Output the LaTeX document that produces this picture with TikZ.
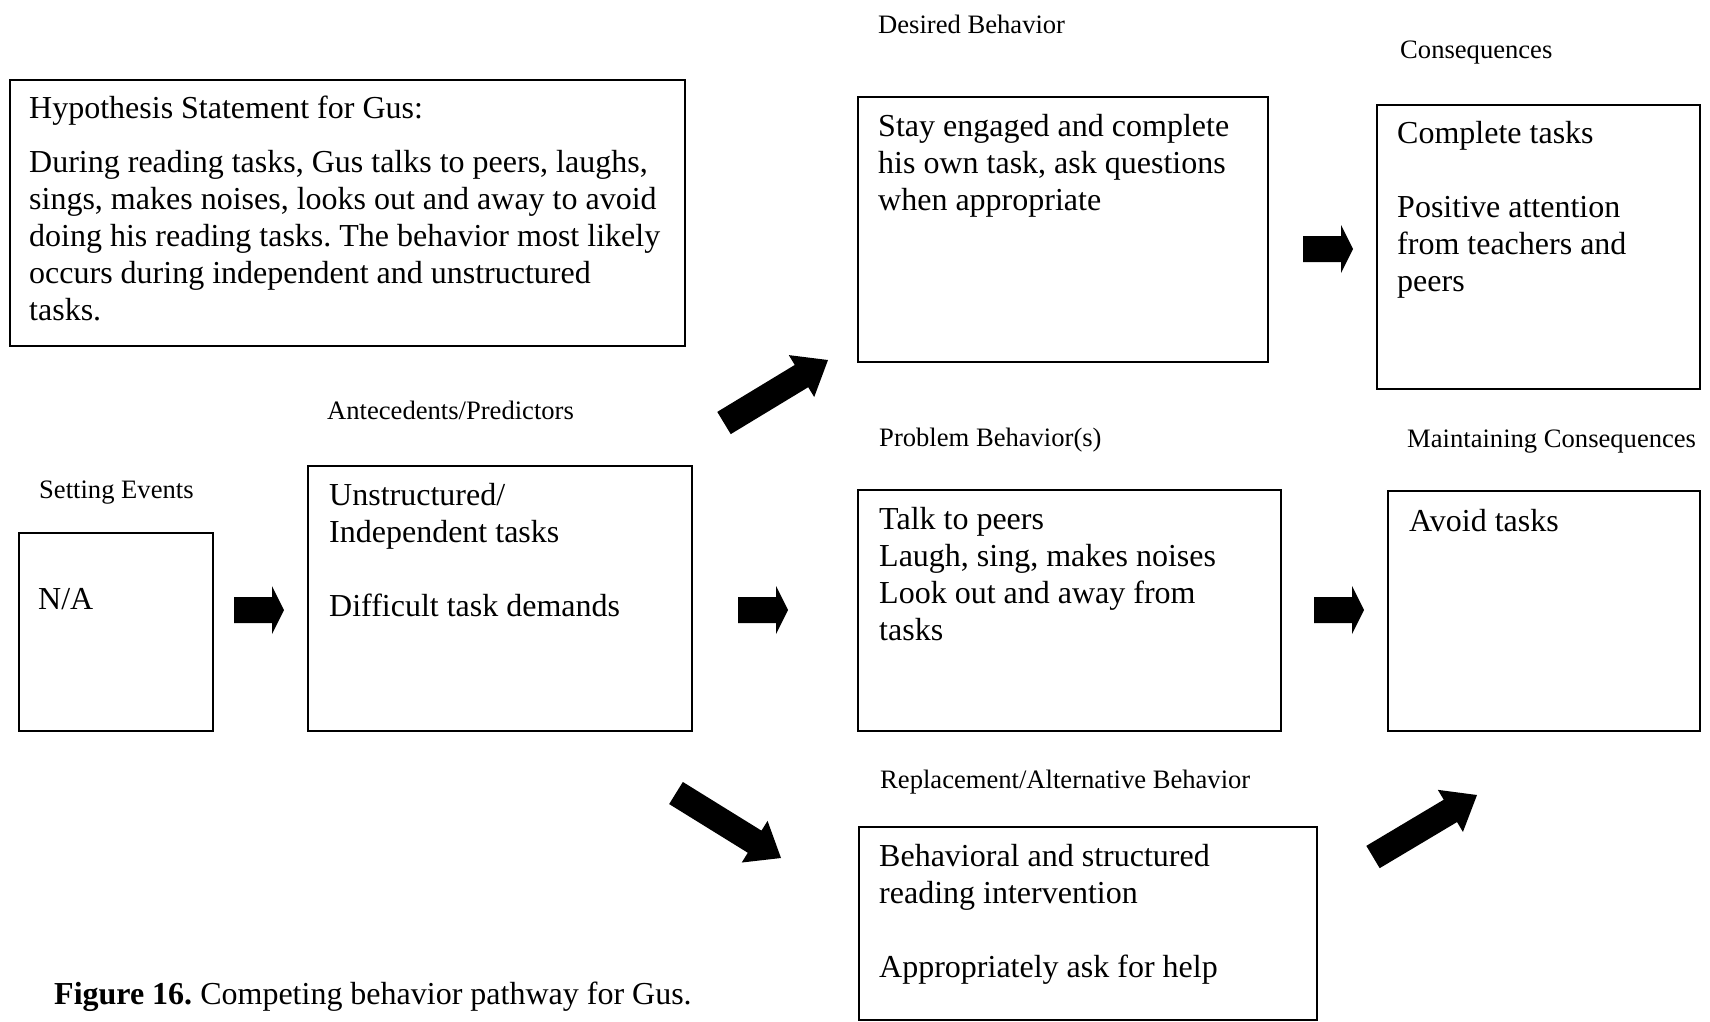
\documentclass[tikz,border=0pt]{standalone}
\usepackage{fontspec}
\setmainfont{Liberation Serif}
\usetikzlibrary{calc}
\frenchspacing

\tikzset{
  panel/.style={draw, line width=1.5pt, inner sep=0pt, anchor=north west},
  body/.style={anchor=base west, inner sep=0pt, font=\fontsize{32}{37}\selectfont},
  heading/.style={anchor=base west, inner sep=0pt, font=\fontsize{26.6}{30}\selectfont},
}

% Filled block arrow from #1 to #2: half shaft width #3, half head width #4, head length #5
\newcommand{\blockarrow}[5]{%
  \coordinate (neck) at ($(#2)!#5!(#1)$);
  \fill ($(#1)!#3!90:(#2)$) -- ($(neck)!#3!90:(#2)$) -- ($(neck)!#4!90:(#2)$)
     -- (#2) -- ($(neck)!#4!-90:(#2)$) -- ($(neck)!#3!-90:(#2)$)
     -- ($(#1)!#3!-90:(#2)$) -- cycle;
}

\newcommand{\lines}[1]{\begin{tabular}[t]{@{}l@{}}#1\end{tabular}}

\begin{document}
\begin{tikzpicture}[x=1pt, y=-1pt]
\useasboundingbox (0,0) rectangle (1710,1021);

% boxes
\node[panel, minimum width=675pt, minimum height=266pt] (hyp) at (9,79) {};
\node[panel, minimum width=410pt, minimum height=265pt] (des) at (857,96) {};
\node[panel, minimum width=323pt, minimum height=284pt] (con) at (1376,104) {};
\node[panel, minimum width=194pt, minimum height=198pt] (na) at (18,532) {};
\node[panel, minimum width=384pt, minimum height=265pt] (ant) at (307,465) {};
\node[panel, minimum width=423pt, minimum height=241pt] (prob) at (857,489) {};
\node[panel, minimum width=312pt, minimum height=240pt] (mnt) at (1387,490) {};
\node[panel, minimum width=458pt, minimum height=193pt] (rep) at (858,826) {};

% headings above the boxes
\node[heading] (hDes) at (878,33) {Desired Behavior};
\node[heading] (hCon) at (1400,58) {Consequences};
\node[heading] (hAnt) at (327,419) {Antecedents/Predictors};
\node[heading] (hProb) at (879,446) {Problem Behavior(s)};
\node[heading] (hMnt) at (1407,447) {Maintaining Consequences};
\node[heading] (hSet) at (39,498) {Setting Events};
\node[heading] (hRep) at (880,788) {Replacement/Alternative Behavior};

% box contents
\node[body] (tHyp) at (29,118) {\lines{Hypothesis Statement for Gus:\\[17pt]
  During reading tasks, Gus talks to peers, laughs,\\
  sings, makes noises, looks out and away to avoid\\
  doing his reading tasks. The behavior most likely\\
  occurs during independent and unstructured\\
  tasks.}};
\node[body] (tDes) at (878,136) {\lines{Stay engaged and complete\\his own task, ask questions\\when appropriate}};
\node[body] (tCon) at (1397,143) {\lines{Complete tasks\\ \\Positive attention\\from teachers and\\peers}};
\node[body] (tNa) at (38,609) {N/A};
\node[body] (tAnt) at (329,505) {\lines{Unstructured/\\Independent tasks\\ \\Difficult task demands}};
\node[body] (tProb) at (879,529) {\lines{Talk to peers\\Laugh, sing, makes noises\\Look out and away from\\tasks}};
\node[body] (tMnt) at (1409,531) {Avoid tasks};
\node[body] (tRep) at (879,866) {\lines{Behavioral and structured\\reading intervention\\ \\Appropriately ask for help}};

% caption
\node[body] (cap) at (54,1004) {\textbf{Figure 16.} Competing behavior pathway for Gus.};

% arrow end points
\coordinate (a1s) at (234,610);  \coordinate (a1e) at (284,610);
\coordinate (a2s) at (738,610);  \coordinate (a2e) at (788,610);
\coordinate (a3s) at (1314,610); \coordinate (a3e) at (1364,610);
\coordinate (a4s) at (1303,249); \coordinate (a4e) at (1353,249);
\coordinate (a5s) at (724,423);  \coordinate (a5e) at (828,360);
\coordinate (a6s) at (676,793);  \coordinate (a6e) at (781,858);
\coordinate (a7s) at (1373,857); \coordinate (a7e) at (1477,795);

\blockarrow{a1s}{a1e}{13pt}{24pt}{12pt}
\blockarrow{a2s}{a2e}{13pt}{24pt}{12pt}
\blockarrow{a3s}{a3e}{13pt}{24pt}{12pt}
\blockarrow{a4s}{a4e}{13pt}{24pt}{12pt}
\blockarrow{a5s}{a5e}{13pt}{24.5pt}{31pt}
\blockarrow{a6s}{a6e}{13pt}{24.5pt}{31pt}
\blockarrow{a7s}{a7e}{13pt}{24.5pt}{31pt}
\end{tikzpicture}
\end{document}
